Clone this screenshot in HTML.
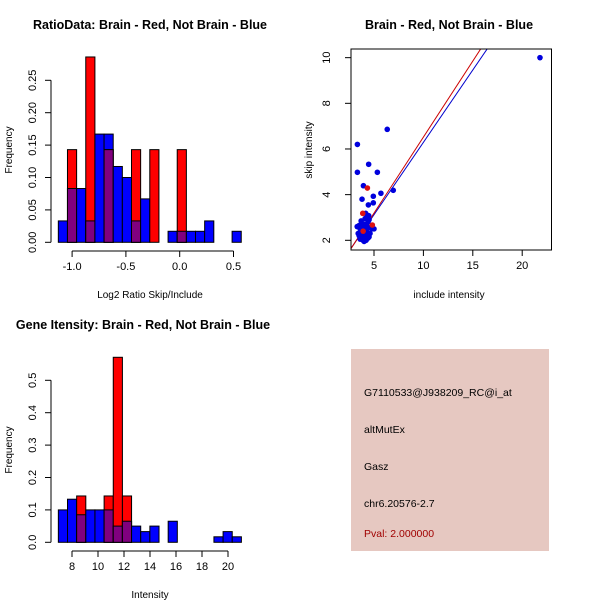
<!DOCTYPE html>
<html><head><meta charset="utf-8"><style>
body{margin:0;background:#fff}
svg{display:block;font-family:"Liberation Sans",sans-serif}
</style></head><body>
<svg id="c" width="600" height="600" viewBox="0 0 600 600">
<defs><clipPath id="sc"><rect x="351" y="49" width="200.5" height="201"/></clipPath></defs>
<rect width="600" height="600" fill="#fff"/>
<text x="150" y="29" text-anchor="middle" font-weight="bold" font-size="12.5">RatioData: Brain - Red, Not Brain - Blue</text>
<text x="449" y="29" text-anchor="middle" font-weight="bold" font-size="12.5">Brain - Red, Not Brain - Blue</text>
<text x="143" y="329" text-anchor="middle" font-weight="bold" font-size="12.5">Gene Itensity: Brain - Red, Not Brain - Blue</text>
<text x="150" y="298" text-anchor="middle" font-size="10">Log2 Ratio Skip/Include</text>
<text x="150" y="598" text-anchor="middle" font-size="10">Intensity</text>
<text x="449" y="298" text-anchor="middle" font-size="10">include intensity</text>
<text transform="translate(12,150) rotate(-90)" text-anchor="middle" font-size="10">Frequency</text>
<text transform="translate(12,450) rotate(-90)" text-anchor="middle" font-size="10">Frequency</text>
<text transform="translate(312,150) rotate(-90)" text-anchor="middle" font-size="10">skip intensity</text>
<g>
<rect x="351" y="349" width="198" height="202" fill="#e6c8c1"/>
<text x="364" y="396" font-size="10.5">G7110533@J938209_RC@i_at</text>
<text x="364" y="433" font-size="10.5">altMutEx</text>
<text x="364" y="470" font-size="10.5">Gasz</text>
<text x="364" y="507" font-size="10.5">chr6.20576-2.7</text>
<text x="364" y="537" font-size="10.5" fill="#a00000">Pval: 2.000000</text>
</g>
</svg>
<script>
// Ratio histogram data
const ratioBinStart = -1.128;
const ratioBinWidth = 0.085;
const ratioBlue = [0.033,0.083,0.083,0.033,0.167,0.167,0.117,0.100,0.033,0.067,0,0,0.017,0.017,0.017,0.017,0.033,0,0,0.017];
const ratioRed  = [0,0.143,0,0.286,0,0.143,0,0,0.143,0,0.143,0,0,0.143,0,0,0,0,0,0];
const ratioYTicks = [0,0.05,0.10,0.15,0.20,0.25];
const ratioYLabels = ["0.00","0.05","0.10","0.15","0.20","0.25"];
const ratioXTicks = [-1.0,-0.5,0.0,0.5];
const ratioXLabels = ["-1.0","-0.5","0.0","0.5"];
// Intensity histogram data
const intBinStart = 6.95;
const intBinWidth = 0.704;
const intBlue = [0.100,0.133,0.085,0.100,0.100,0.100,0.050,0.065,0.050,0.033,0.050,0,0.065,0,0,0,0,0.017,0.033,0.017];
const intRed  = [0,0,0.143,0,0,0.143,0.571,0.143,0,0,0,0,0,0,0,0,0,0,0,0];
const intYTicks = [0,0.1,0.2,0.3,0.4,0.5];
const intYLabels = ["0.0","0.1","0.2","0.3","0.4","0.5"];
const intXTicks = [8,10,12,14,16,18,20];
const intXLabels = ["8","10","12","14","16","18","20"];
// Scatter data
const blueX = [21.8,6.34,3.32,4.46,3.32,5.34,3.93,5.70,6.95,3.79,4.93,4.43,4.93,4.16,4.46,3.5,3.6,3.7,3.8,3.9,4.0,4.1,4.2,4.3,4.4,4.5,4.6,4.8,5.0,3.4,3.6,3.9,4.1,4.3,4.5,3.7,4.0,4.2,3.5,3.8,4.6,4.4,3.3,4.0,3.7];
const blueY = [10.0,6.86,6.20,5.33,4.98,4.98,4.39,4.06,4.19,3.80,3.93,3.55,3.64,3.18,3.08,2.65,2.5,2.3,2.1,2.0,1.95,2.2,2.45,2.6,2.8,2.9,2.55,2.5,2.5,2.3,2.05,2.7,2.95,2.35,2.15,2.85,2.45,2.0,2.2,2.55,2.3,2.1,2.6,2.7,2.4];
const redX = [4.33,3.86,4.83,3.9];
const redY = [4.29,3.18,2.67,2.4];
const scXTicks = [5,10,15,20];
const scXLabels = ["5","10","15","20"];
const scYTicks = [2,4,6,8,10];
const scYLabels = ["2","4","6","8","10"];
const redFit = [-0.14,0.666];
const blueFit = [-0.05,0.634];

const NS="http://www.w3.org/2000/svg";
const svg=document.getElementById('c');
function mk(tag,attrs,parent){const e=document.createElementNS(NS,tag);for(const k in attrs)e.setAttribute(k,attrs[k]);(parent||svg).appendChild(e);return e;}

function hist(o){
  const g=mk('g',{});
  
  
  const sx=v=>o.x0+(v-o.xv0)*o.xs;
  const sy=v=>o.base-v*o.ys;
  for(let i=0;i<o.blue.length;i++){
    const l=sx(o.start+i*o.w), r=sx(o.start+(i+1)*o.w);
    const b=o.blue[i], rd=o.red[i];
    if(b>0){const e=mk('rect',{x:l,y:sy(b),width:r-l,height:sy(0)-sy(b),fill:'#0000ff',stroke:'#000','stroke-width':1},g);
      
      }
    if(rd>0){const e=mk('rect',{x:l,y:sy(rd),width:r-l,height:sy(0)-sy(rd),fill:'#ff0000',stroke:'#000','stroke-width':1},g);
      
      }
    if(b>0&&rd>0){const m=Math.min(b,rd);const e=mk('rect',{x:l,y:sy(m),width:r-l,height:sy(0)-sy(m),fill:'#80007f',stroke:'#000','stroke-width':1},g);
      
      }
  }
  const ya=mk('g',{},g);
  
  
  mk('line',{x1:o.yaxX,x2:o.yaxX,y1:sy(o.yt[0]),y2:sy(o.yt[o.yt.length-1]),stroke:'#000'},ya);
  o.yt.forEach((t,i)=>{mk('line',{x1:o.yaxX-6,x2:o.yaxX,y1:sy(t),y2:sy(t),stroke:'#000'},ya);
    const tx=mk('text',{transform:`translate(${o.yaxX-15},${sy(t)}) rotate(-90)`,'text-anchor':'middle','font-size':11},ya);tx.textContent=o.yl[i];
    
    });
  const xa=mk('g',{},g);
  
  
  mk('line',{x1:sx(o.xt[0]),x2:sx(o.xt[o.xt.length-1]),y1:o.xaxY,y2:o.xaxY,stroke:'#000'},xa);
  o.xt.forEach((t,i)=>{mk('line',{x1:sx(t),x2:sx(t),y1:o.xaxY,y2:o.xaxY+6,stroke:'#000'},xa);
    const tx=mk('text',{x:sx(t),y:o.xaxY+19,'text-anchor':'middle','font-size':11},xa);tx.textContent=o.xl[i];
    
    });
}
hist({name:'ratio-histogram',start:ratioBinStart,w:ratioBinWidth,blue:ratioBlue,red:ratioRed,x0:179.7,xv0:0,xs:107.6,base:242.3,ys:648,yt:ratioYTicks,yl:ratioYLabels,xt:ratioXTicks,xl:ratioXLabels,yaxX:51,xaxY:251});
hist({name:'intensity-histogram',start:intBinStart,w:intBinWidth,blue:intBlue,red:intRed,x0:72,xv0:8,xs:13,base:542.3,ys:324,yt:intYTicks,yl:intYLabels,xt:intXTicks,xl:intXLabels,yaxX:51,xaxY:551});

(function(){
  const g=mk('g',{});
  
  
  const L=351,R=551.5,T=49,B=250;
  const sx=v=>374+(v-5)*9.88, sy=v=>240.3-(v-2)*22.83;
  const bf=mk('line',{x1:sx(0),y1:sy(blueFit[0]),x2:sx(25),y2:sy(blueFit[0]+blueFit[1]*25),stroke:'#0000cc','clip-path':'url(#sc)'},g);
  
  
  const rf=mk('line',{x1:sx(0),y1:sy(redFit[0]),x2:sx(25),y2:sy(redFit[0]+redFit[1]*25),stroke:'#cc0000','clip-path':'url(#sc)'},g);
  
  
  blueX.forEach((x,i)=>{const c=mk('circle',{cx:sx(x),cy:sy(blueY[i]),r:2.8,fill:'#0000dd'},g);
    
    });
  redX.forEach((x,i)=>{const c=mk('circle',{cx:sx(x),cy:sy(redY[i]),r:2.8,fill:'#dd1111'},g);
    
    });
  const box=mk('rect',{x:L,y:T,width:R-L,height:B-T,fill:'none',stroke:'#000'},g);
  
  
  scXTicks.forEach((t,i)=>{mk('line',{x1:sx(t),x2:sx(t),y1:B,y2:B+6,stroke:'#000'},g);
    const tx=mk('text',{x:sx(t),y:B+19,'text-anchor':'middle','font-size':11},g);tx.textContent=scXLabels[i];
    
    });
  scYTicks.forEach((t,i)=>{mk('line',{x1:L-6,x2:L,y1:sy(t),y2:sy(t),stroke:'#000'},g);
    const tx=mk('text',{transform:`translate(${L-21},${sy(t)}) rotate(-90)`,'text-anchor':'middle','font-size':11},g);tx.textContent=scYLabels[i];
    
    });
})();
</script>
</body></html>
